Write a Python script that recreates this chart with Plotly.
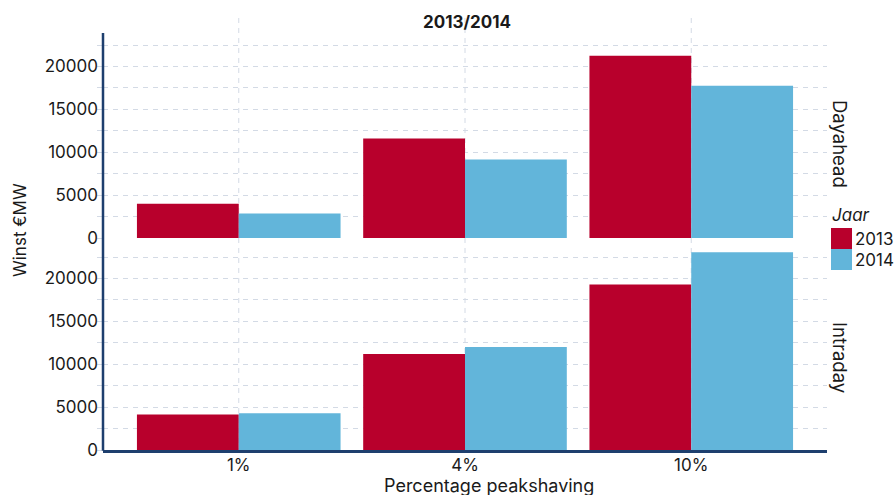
import plotly.graph_objects as go
from plotly.subplots import make_subplots

categories = ["1%", "4%", "10%"]
years = ["2013", "2014"]
dayahead_2013 = [4000, 11600, 21250]
dayahead_2014 = [2870, 9150, 17750]
intraday_2013 = [4150, 11200, 19300]
intraday_2014 = [4270, 12000, 23050]
panels = ["Dayahead", "Intraday"]
y_ticks = [0, 5000, 10000, 15000, 20000]

RED = "#B8002C"
BLUE = "#62B5DA"
NAVY = "#1E3F6E"
GRID = "#D3DAE5"
TXT = "#1a1a1a"
FONT = "Inter"

W, H = 896, 495
L, T = 103, 33
R = W - 827
B = H - 450
PW, PH = W - L - R, H - T - B

fig = make_subplots(rows=2, cols=1, shared_xaxes=True, vertical_spacing=7 / PH)

series = [
    (1, dayahead_2013, dayahead_2014),
    (2, intraday_2013, intraday_2014),
]
for row, v13, v14 in series:
    fig.add_trace(go.Bar(x=categories, y=v13, name=years[0], marker_color=RED,
                         marker_line_width=0, showlegend=False), row=row, col=1)
    fig.add_trace(go.Bar(x=categories, y=v14, name=years[1], marker_color=BLUE,
                         marker_line_width=0, showlegend=False), row=row, col=1)

yax = dict(range=[0, 23900], tickvals=y_ticks, ticktext=[str(v) for v in y_ticks],
           showgrid=True, gridcolor=GRID, griddash="5px,5px", gridwidth=1,
           zeroline=False, showline=False, ticks="", ticklabelstandoff=4,
           minor=dict(dtick=2500, tick0=0, showgrid=True, gridcolor=GRID, griddash="5px,5px",
                      gridwidth=1, ticks="outside", ticklen=5, tickcolor=GRID),
           tickfont=dict(size=17, color=TXT, family=FONT))
fig.update_yaxes(**yax)
fig.update_xaxes(range=[-0.6, 2.6], showgrid=False, zeroline=False, ticks="",
                 ticklabelstandoff=-2,
                 tickfont=dict(size=17, color=TXT, family=FONT))
fig.update_xaxes(showline=True, linecolor=NAVY, linewidth=2.5, row=2, col=1)
fig.update_xaxes(showticklabels=False, row=1, col=1)

def px_x(p):
    return (p - L) / PW

def px_y(p):
    return (H - B - p) / PH

# vertical dashed gridlines at each category
for c in categories:
    fig.add_shape(type="line", xref="x2", yref="paper", x0=c, x1=c,
                  y0=px_y(453), y1=px_y(13), layer="below",
                  line=dict(color=GRID, width=1, dash="5px,5px"))

# continuous left axis line
fig.add_shape(type="line", xref="paper", yref="paper", x0=0, x1=0, y0=-0.002, y1=1,
              line=dict(color=NAVY, width=2.5))

def note(text, x, y, size, angle=0, xanchor="center"):
    return dict(text=text, x=px_x(x), y=px_y(y), xref="paper", yref="paper",
                xanchor=xanchor, yanchor="middle", showarrow=False, textangle=angle,
                font=dict(size=size, color=TXT, family=FONT))

ann = [
    note("<b>2013/2014</b>", 467, 22, 17),
    note("Percentage peakshaving", 489, 486, 18),
    note("Winst €MW", 20, 230, 17, angle=-90),
    note(panels[0], 840, 144, 18.5, angle=90),
    note(panels[1], 840, 357, 18.5, angle=90),
    note("<i>Jaar</i>", 830, 215, 17, xanchor="left"),
]
for i, (yr, col) in enumerate(zip(years, [RED, BLUE])):
    top = 228 + i * 21
    fig.add_shape(type="rect", xref="paper", yref="paper", x0=px_x(831), x1=px_x(852),
                  y0=px_y(top + 21), y1=px_y(top), fillcolor=col, line_width=0)
    ann.append(note(yr, 853, top + 10.5, 17, xanchor="left"))

fig.update_layout(
    width=W, height=H, margin=dict(l=L, r=R, t=T, b=B),
    barmode="group", bargap=0.1, bargroupgap=0,
    plot_bgcolor="white", paper_bgcolor="white",
    annotations=ann, showlegend=False,
    font=dict(family=FONT, color=TXT),
)
fig.write_html("out.html", config={"displayModeBar": False},
               post_script="document.body.style.margin='0';document.body.style.overflow='hidden';")
